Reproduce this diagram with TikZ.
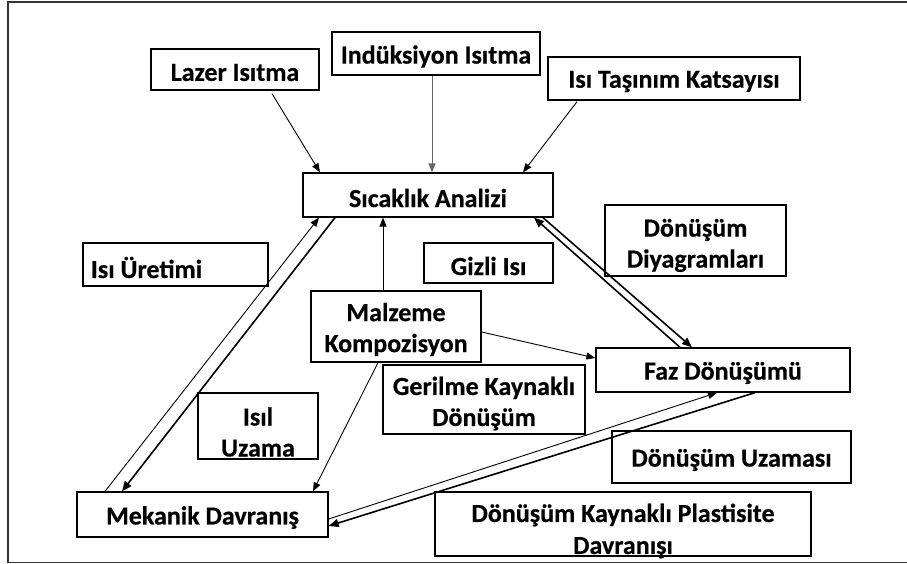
\documentclass[tikz,border=0pt]{standalone}
\usepackage{fontspec}
\setmainfont{Carlito}[BoldFeatures={FakeBold=0.5}]
\usetikzlibrary{arrows.meta}
\begin{document}
\begin{tikzpicture}[x=1pt,y=-1pt,
  box/.style={draw, line width=1.3pt, inner sep=0pt},
  txt/.style={font=\fontsize{26}{31}\selectfont\bfseries, align=center, inner sep=0pt, yshift=-3pt},
  thinarr/.style={line width=0.9pt, -{Triangle[length=9pt,width=7pt]}},
  thickarr/.style={line width=1.6pt, -{Triangle[length=10pt,width=8pt]}},
  frameline/.style={line width=1.8pt, draw=black!80}]
\useasboundingbox (0,0) rectangle (907,564);
\coordinate (ftl) at (8,1.7);
\coordinate (fbl) at (8,562.5);
\coordinate (ftr) at (907,1.7);
\coordinate (fbr) at (907,562.5);
\draw[frameline] (ftr) -- (ftl) -- (fbl) -- (fbr);

\node[box, minimum width=168pt, minimum height=41pt, label={[txt]center:Lazer Isıtma}] (lazer) at (235,69.5) {};
\node[box, minimum width=208pt, minimum height=43pt, label={[txt]center:Indüksiyon Isıtma}] (induk) at (436,53.5) {};
\node[box, minimum width=252pt, minimum height=43pt, label={[txt]center:Isı Taşınım Katsayısı}] (tasinim) at (674,78.5) {};
\node[box, minimum width=250pt, minimum height=44pt, label={[txt]center:Sıcaklık Analizi}] (sicak) at (428,195) {};
\node[box, minimum width=185pt, minimum height=43pt, label={[txt, xshift=-29pt]center:Isı Üretimi}] (uretim) at (175.5,264.5) {};
\node[box, minimum width=129pt, minimum height=40pt, label={[txt]center:Gizli Isı}] (gizli) at (488.5,263) {};
\node[box, minimum width=181pt, minimum height=71pt, label={[txt, yshift=-2pt]center:Dönüşüm\\Diyagramları}] (diyag) at (695.5,240.5) {};
\node[box, minimum width=170pt, minimum height=71pt, label={[txt]center:Malzeme\\Kompozisyon}] (malz) at (396,326.5) {};
\node[box, minimum width=254pt, minimum height=44pt, label={[txt]center:Faz Dönüşümü}] (faz) at (723,370) {};
\node[box, minimum width=202pt, minimum height=69pt, label={[txt, yshift=-1pt]center:Gerilme Kaynaklı\\Dönüşüm}] (geril) at (484,399.5) {};
\node[box, minimum width=120pt, minimum height=66pt, label={[txt, yshift=-3pt]center:Isıl\\Uzama}] (isil) at (258,426) {};
\node[box, minimum width=251pt, minimum height=45pt, label={[txt]center:Mekanik Davranış}] (mekan) at (202.5,514.5) {};
\node[box, minimum width=239pt, minimum height=52pt, label={[txt]center:Dönüşüm Uzaması}] (uzama) at (731.5,457) {};
\node[box, minimum width=376pt, minimum height=64pt, label={[txt, yshift=-4pt, font=\fontsize{26}{32}\selectfont\bfseries]center:Dönüşüm Kaynaklı Plastisite\\Davranışı}] (plast) at (623,524) {};

% arrows into Sicaklik Analizi
\draw[thinarr] ([xshift=37pt,yshift=-3pt]lazer.south) -- ([xshift=-108pt]sicak.north);
\draw[thinarr, draw=black!60] ([xshift=-4pt]induk.south) -- ([xshift=4pt]sicak.north);
\draw[thinarr] ([xshift=-97pt,yshift=-1pt]tasinim.south) -- ([xshift=95pt]sicak.north);

% Sicaklik <-> Mekanik
\draw[thinarr] ([xshift=-97.5pt]mekan.north) -- ([xshift=-109pt]sicak.south);
\draw[thickarr] ([xshift=-93pt]sicak.south) -- ([xshift=-80.5pt]mekan.north);

% Malzeme
\draw[thinarr] ([xshift=-13pt]malz.north) -- ([xshift=-45pt]sicak.south);
\draw[thinarr] ([yshift=-5.5pt]malz.east) -- ([yshift=12pt]faz.west);
\draw[thinarr] ([xshift=-18pt]malz.south) -- ([xshift=110.5pt]mekan.north);

% Sicaklik <-> Faz
\draw[thickarr] ([xshift=-43pt]faz.north) -- ([xshift=106pt]sicak.south);
\draw[thickarr] ([xshift=115pt]sicak.south) -- ([xshift=-31pt]faz.north);

% Faz <-> Mekanik
\draw[thinarr] ([yshift=-4.5pt]mekan.east) -- ([xshift=-6pt]faz.south);
\draw[thickarr] ([xshift=32pt]faz.south) -- ([yshift=-11.5pt]mekan.east);
\end{tikzpicture}
\end{document}
